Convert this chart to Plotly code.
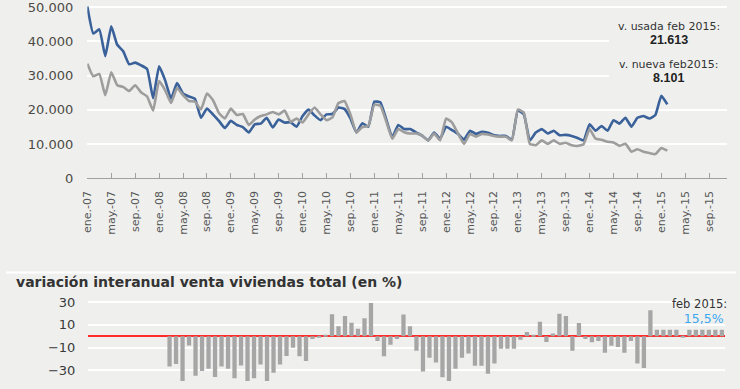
import plotly.graph_objects as go

W, H = 740, 389
BG = "#eff0ee"

# ---- data (top panel, thousands of units, ene-07 .. feb-15) ----
usada = [50.2, 42.3, 43.5, 35.7, 44.4, 39.0, 37.1, 33.3, 33.8, 33.0, 31.9, 23.4,
         32.7, 28.7, 23.3, 27.8, 24.8, 23.9, 23.2, 17.7, 20.4, 18.7, 16.8, 14.7,
         16.8, 15.6, 15.0, 13.4, 15.8, 16.0, 17.7, 14.9, 17.2, 16.3, 16.4, 15.1,
         18.2, 20.1, 18.4, 17.0, 18.7, 18.8, 20.7, 20.3, 17.5, 13.4, 16.1, 15.1,
         22.4, 22.2, 17.2, 12.0, 15.6, 14.4, 14.4, 13.4, 12.5, 11.1, 13.4, 11.6,
         15.1, 14.1, 13.0, 11.3, 13.9, 13.0, 13.6, 13.3, 12.6, 12.4, 12.4, 11.3,
         19.8, 18.7, 11.1, 13.4, 14.4, 13.1, 13.9, 12.6, 12.7, 12.4, 11.8, 11.1,
         15.8, 13.9, 15.3, 13.9, 17.0, 16.0, 17.7, 15.1, 17.7, 18.2, 17.5, 18.5,
         24.1, 21.613]
nueva = [33.5, 29.8, 30.5, 24.3, 31.0, 27.2, 26.7, 25.5, 27.2, 25.1, 23.9, 19.8,
         28.4, 25.8, 22.0, 26.4, 24.3, 22.6, 22.4, 20.1, 24.8, 22.9, 19.1, 17.5,
         20.4, 18.5, 18.8, 15.6, 17.2, 18.2, 18.7, 19.4, 18.7, 19.8, 16.5, 17.5,
         16.3, 18.7, 20.7, 18.7, 17.0, 17.8, 22.0, 22.6, 18.7, 13.4, 15.0, 15.3,
         21.5, 21.2, 16.6, 11.6, 14.4, 13.5, 13.1, 13.1, 12.5, 11.1, 13.1, 11.1,
         17.5, 16.3, 13.1, 10.1, 13.0, 12.2, 13.0, 12.8, 12.4, 12.2, 12.2, 11.1,
         20.1, 19.2, 10.1, 9.7, 11.1, 10.1, 11.1, 10.1, 10.4, 9.7, 9.5, 10.0,
         14.4, 11.6, 11.3, 10.7, 10.5, 9.5, 10.1, 7.8, 8.5, 7.8, 7.4, 7.1,
         8.9, 8.101]

tick_labels = ["ene.-07", "may.-07", "sep.-07", "ene.-08", "may.-08", "sep.-08",
               "ene.-09", "may.-09", "sep.-09", "ene.-10", "may.-10", "sep.-10",
               "ene.-11", "may.-11", "sep.-11", "ene.-12", "may.-12", "sep.-12",
               "ene.-13", "may.-13", "sep.-13", "ene.-14", "may.-14", "sep.-14",
               "ene.-15", "may.-15", "sep.-15"]
y_ticks = [0, 10000, 20000, 30000, 40000, 50000]
y_tick_text = ["0", "10.000", "20.000", "30.000", "40.000", "50.000"]

# ---- data (bottom panel, % interannual change) ----
variacion = [None] * 12 + [
    -26.6, -24.4, -42.0, -8.2, -34.8, -30.6, -28.6, -35.7, -26.6, -28.6, -36.8, -25.8,
    -41.0, -36.8, -24.9, -42.0, -32.0, -24.9, -17.3, -10.2, -17.5, -21.7, -2.5, -1.4,
    0.3, 19.2, 8.7, 17.7, 11.8, 6.5, 15.8, 29.0, -4.2, -17.5, -7.6, -2.5,
    18.9, 8.7, -12.7, -31.0, -18.9, -23.1, -36.0, -41.0, -28.5, -18.9, -15.2, -25.9,
    -25.9, -33.0, -23.9, -11.0, -11.0, -11.0, -3.1, 3.7, 0.3, 12.7, -5.1, 2.3,
    19.7, 17.7, -12.7, 11.5, -2.5, -5.4, -4.2, -14.6, -8.5, -9.6, -14.6, -4.2,
    -24.0, -28.0, 22.8, 5.6, 5.6, 5.6, 5.6, -1.0, 5.6, 5.6, 5.6, 5.6,
    5.6, 5.6]
bar_ticks = [-30, -10, 10, 30]


def py(p):  # pixel row -> paper fraction
    return 1 - p / H


def px(p):  # pixel column -> paper fraction
    return p / W


fig = go.Figure()
fig.add_trace(go.Scatter(
    x=list(range(len(usada))), y=[v * 1000 for v in usada], mode="lines",
    line=dict(color="#3a6199", width=2.6, shape="spline", smoothing=0.4),
    xaxis="x", yaxis="y", showlegend=False, hoverinfo="skip"))
fig.add_trace(go.Scatter(
    x=list(range(len(nueva))), y=[v * 1000 for v in nueva], mode="lines",
    line=dict(color="#9d9d9d", width=2.6, shape="spline", smoothing=0.4),
    xaxis="x", yaxis="y", showlegend=False, hoverinfo="skip"))
fig.add_trace(go.Bar(
    x=list(range(len(variacion))), y=variacion, marker=dict(color="#a6a6a6", line=dict(width=0)),
    xaxis="x2", yaxis="y2", showlegend=False, hoverinfo="skip"))

fig.update_layout(
    width=W, height=H, margin=dict(l=0, r=0, t=0, b=0),
    paper_bgcolor=BG, plot_bgcolor=BG, bargap=0.34,
    font=dict(family="DejaVu Sans", color="#444"),
    xaxis=dict(domain=[px(82), px(727)], range=[0, 107], anchor="y",
               tickmode="array", tickvals=list(range(0, 105, 4)), ticktext=tick_labels,
               tickangle=-90, ticks="inside", ticklen=5, tickcolor="#a0a0a0", tickwidth=1,
               showline=True, linecolor="#a0a0a0", linewidth=1.2,
               showgrid=False, zeroline=False, ticklabelstandoff=7,
               tickfont=dict(size=11, color="#555", family="DejaVu Sans")),
    yaxis=dict(domain=[py(180), 1], range=[0, 50900], anchor="x",
               tickmode="array", tickvals=y_ticks, ticktext=y_tick_text,
               showgrid=True, gridcolor="#ffffff", gridwidth=2,
               zeroline=False, showline=False, ticks="", ticklabelstandoff=13,
               ticklabeloverflow="allow",
               tickfont=dict(size=13, color="#4d4a45", family="DejaVu Sans")),
    xaxis2=dict(domain=[px(83), px(725)], range=[-0.5, 97.5], anchor="y2",
                visible=False),
    yaxis2=dict(domain=[0, py(296)], range=[-39.3, 39.7], anchor="x2",
                tickmode="array", tickvals=bar_ticks,
                showgrid=True, gridcolor="#ffffff", gridwidth=1.5,
                zeroline=True, zerolinecolor="#ff2a2a", zerolinewidth=1.6,
                showline=False, ticks="", ticklabelstandoff=12,
                tickfont=dict(size=13, color="#3a3a3a", family="DejaVu Sans")),
)

fig.add_shape(type="rect", xref="paper", yref="paper",
              x0=px(608), x1=1, y0=py(86), y1=py(15),
              fillcolor=BG, line=dict(width=0), layer="above")
fig.add_shape(type="line", xref="paper", yref="paper",
              x0=0, x1=px(736), y0=py(277), y1=py(277),
              line=dict(color="#ffffff", width=2))

num_style = "font-family:'Liberation Sans';font-size:12.5px;color:#222"
fig.add_annotation(text="v. usada feb 2015:<br><span style=\"%s\"><b>21.613</b></span>" % num_style,
                   x=px(668), y=py(30.5), xref="paper", yref="paper",
                   xanchor="center", yanchor="middle", showarrow=False, align="center",
                   font=dict(size=11, color="#333", family="DejaVu Sans"))
fig.add_annotation(text="v. nueva feb2015:<br><span style=\"%s\"><b>8.101</b></span>" % num_style,
                   x=px(668), y=py(70), xref="paper", yref="paper",
                   xanchor="center", yanchor="middle", showarrow=False, align="center",
                   font=dict(size=11, color="#333", family="DejaVu Sans"))

fig.add_annotation(text="<b>variación interanual venta viviendas total (en %)</b>",
                   x=px(8), y=py(287), xref="paper", yref="paper",
                   xanchor="left", yanchor="middle", showarrow=False,
                   font=dict(size=14, color="#333", family="DejaVu Sans"))
fig.add_annotation(text="feb 2015:<br><span style=\"color:#3da7f0;font-size:12.5px\">15,5%</span>&nbsp;",
                   x=px(729), y=py(317), xref="paper", yref="paper",
                   xanchor="right", yanchor="middle", showarrow=False, align="right",
                   font=dict(size=11.5, color="#333", family="DejaVu Sans"))

fig.write_html("out.html", config={"displayModeBar": False},
               post_script="document.body.style.margin='0';document.body.style.background='%s';" % BG)
